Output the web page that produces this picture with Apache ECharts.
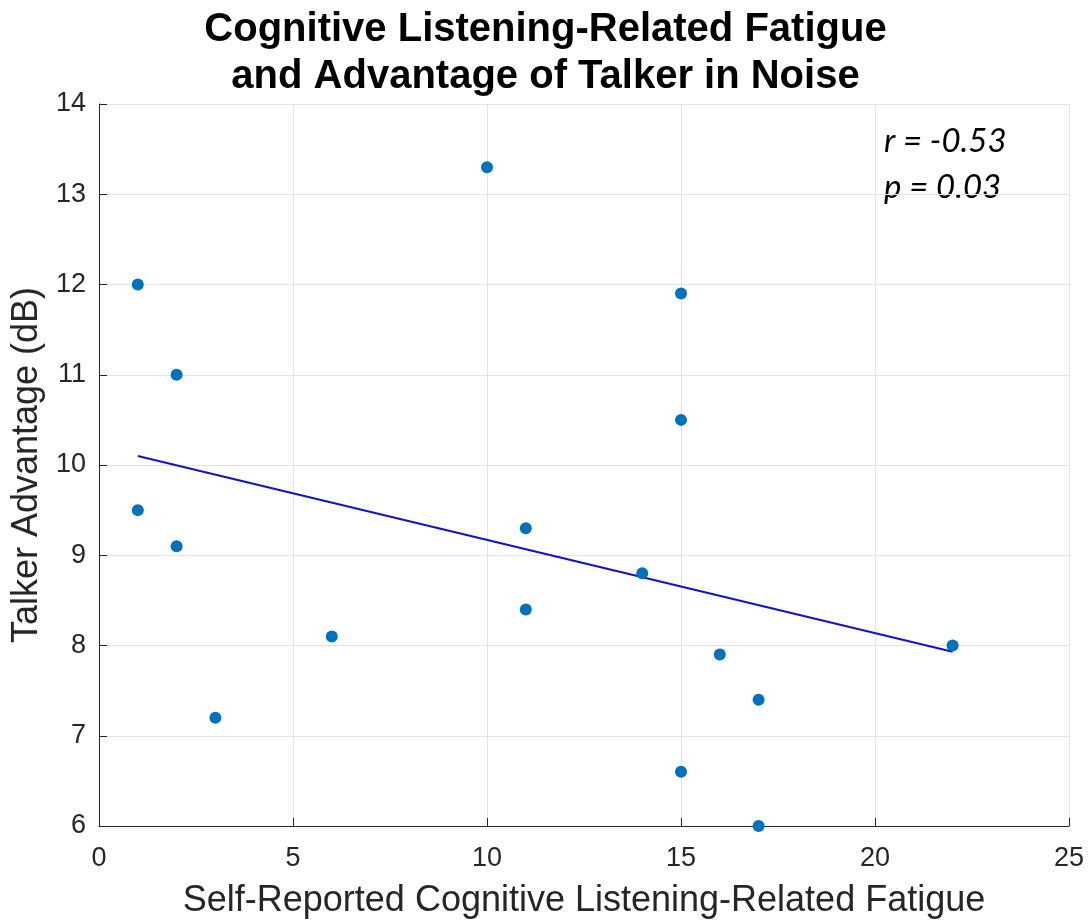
<!DOCTYPE html>
<html>
<head>
<meta charset="utf-8">
<script src="https://cdn.jsdelivr.net/npm/echarts@6/dist/echarts.min.js"></script>
<style>
  html, body { margin: 0; padding: 0; background: #fff; }
  #chart { width: 1091px; height: 924px; }
</style>
</head>
<body>
<div id="chart"></div>
<script>
// fatigue score vs talker advantage
var fatigue = [1, 2, 1, 2, 3, 6, 10, 11, 11, 14, 15, 15, 15, 16, 17, 17, 22];
var advantage = [12.0, 11.0, 9.5, 9.1, 7.2, 8.1, 13.3, 9.3, 8.4, 8.8, 11.9, 10.5, 6.6, 7.9, 7.4, 6.0, 8.0];
// regression line end points
var fitX = [1, 22];
var fitY = [10.1, 7.93];
var statsText = ['r = -0.53', 'p = 0.03'];

var chart = echarts.init(document.getElementById('chart'));

var points = fatigue.map(function (x, i) { return [x, advantage[i]]; });
var fitLine = fitX.map(function (x, i) { return [x, fitY[i]]; });

var font = '"Liberation Sans", Arial, sans-serif';

chart.setOption({
  animation: false,
  title: {
    text: 'Cognitive Listening-Related Fatigue\nand Advantage of Talker in Noise',
    left: 'center',
    top: 1,
    textStyle: {
      fontFamily: font,
      fontWeight: 'bold',
      fontSize: 40,
      lineHeight: 47,
      color: '#000'
    }
  },
  grid: {
    left: 99,
    right: 22,
    top: 104,
    bottom: 94
  },
  xAxis: {
    type: 'value',
    min: 0,
    max: 25,
    interval: 5,
    name: 'Self-Reported Cognitive Listening-Related Fatigue',
    nameLocation: 'middle',
    nameGap: 57,
    nameTextStyle: { fontFamily: font, fontSize: 36, color: '#262626' },
    axisLine: { show: true, lineStyle: { color: '#262626', width: 1 } },
    axisTick: { show: true, inside: true, length: 8, lineStyle: { color: '#262626' } },
    axisLabel: { fontFamily: font, fontSize: 27, color: '#262626', margin: 19 },
    splitLine: { show: true, lineStyle: { color: '#e3e3e3', width: 1 } }
  },
  yAxis: {
    type: 'value',
    min: 6,
    max: 14,
    interval: 1,
    name: 'Talker Advantage (dB)',
    nameLocation: 'middle',
    nameGap: 54,
    nameTextStyle: { fontFamily: font, fontSize: 36, color: '#262626' },
    axisLine: { show: true, lineStyle: { color: '#262626', width: 1 } },
    axisTick: { show: true, inside: true, length: 8, lineStyle: { color: '#262626' } },
    axisLabel: { fontFamily: font, fontSize: 27, color: '#262626', margin: 13 },
    splitLine: { show: true, lineStyle: { color: '#e3e3e3', width: 1 } }
  },
  graphic: [{
    type: 'text',
    left: 884,
    top: 118,
    style: {
      text: statsText.join('\n'),
      font: 'italic 33px Lato, "Open Sans", sans-serif',
      lineHeight: 46,
      fill: '#000'
    }
  }],
  series: [{
    type: 'line',
    data: fitLine,
    symbol: 'none',
    lineStyle: { color: '#1010d8', width: 2 },
    z: 2
  }, {
    type: 'scatter',
    data: points,
    symbolSize: 12,
    itemStyle: { color: '#0072BD', opacity: 1 },
    z: 3
  }]
});
</script>
</body>
</html>
